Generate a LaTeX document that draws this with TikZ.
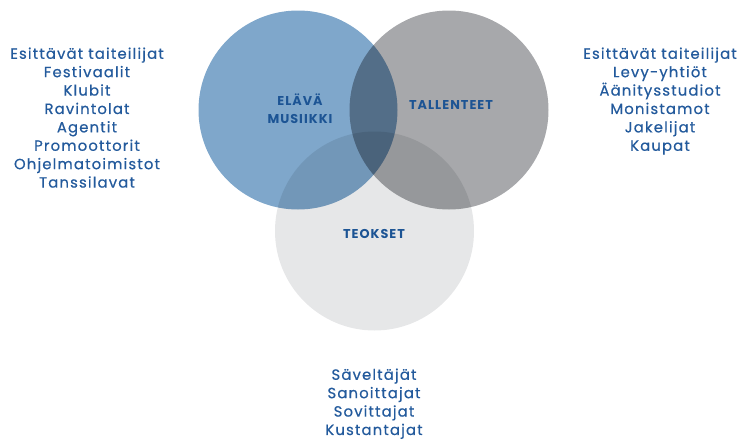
\documentclass[tikz,border=0pt]{standalone}
\usepackage{fontspec}
\setmainfont{Poppins}
\newfontfamily\listfont{Poppins}[LetterSpace=8, FakeBold=0.6]
\usepackage{tikz}
\usetikzlibrary{positioning}

\definecolor{textblue}{HTML}{235A9C}
\definecolor{labelblue}{HTML}{1C5494}
\definecolor{liveblue}{HTML}{7FA7CB}
\definecolor{recgray}{HTML}{A7A8AB}
\definecolor{worklight}{HTML}{E6E7E8}

\tikzset{
    listtext/.style={align=center, text=textblue, font=\listfont\fontsize{14.8}{18.4}\selectfont},
    setlabel/.style={align=center, text=labelblue, font=\bfseries\addfontfeatures{LetterSpace=8}\fontsize{12.8}{18}\selectfont}
}

\begin{document}
\begin{tikzpicture}[x=1pt, y=-1pt]
    \useasboundingbox (0,0) rectangle (740,439);

    % the three sets, multiplied where they meet
    \begin{scope}[blend group=multiply]
        \fill[liveblue] (298,110) circle (99.5);
        \fill[recgray] (449,110) circle (99.5);
        \fill[worklight] (374.5,231) circle (99.5);
    \end{scope}

    \node[setlabel] (live) at (300,109) {ELÄVÄ\\MUSIIKKI};
    \node[setlabel] (rec) at (451,105) {TALLENTEET};
    \node[setlabel] (works) at (374,234) {TEOKSET};

    % who works in each field
    \node[listtext, anchor=north] (livelist) at (87,44)
        {Esittävät taiteilijat\\Festivaalit\\Klubit\\Ravintolat\\Agentit\\Promoottorit\\Ohjelmatoimistot\\Tanssilavat};
    \node[listtext, anchor=north] (reclist) at (660,44)
        {Esittävät taiteilijat\\Levy-yhtiöt\\Äänitysstudiot\\Monistamot\\Jakelijat\\Kaupat};
    \node[listtext, anchor=north] (worklist) at (374,365)
        {Säveltäjät\\Sanoittajat\\Sovittajat\\Kustantajat};
\end{tikzpicture}
\end{document}
